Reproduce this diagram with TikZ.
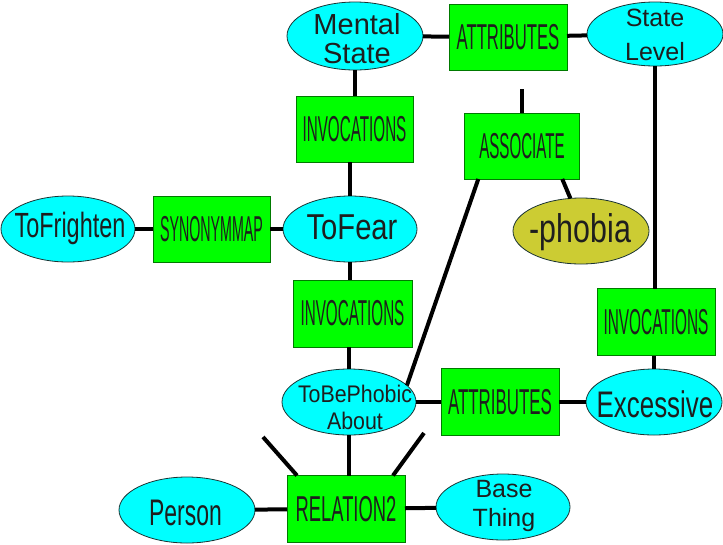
\documentclass[tikz,border=0pt]{standalone}
\usepackage{fontspec}
\setmainfont{Liberation Sans}
\usepackage{graphicx}
\usetikzlibrary{shapes.geometric,calc}
\definecolor{cy}{HTML}{00FFFF}
\definecolor{gr}{HTML}{00FF00}
\definecolor{ol}{HTML}{CCCC33}
\definecolor{txt}{HTML}{1E1E1E}
\definecolor{ellb}{HTML}{1A3333}
\definecolor{boxb}{HTML}{007A00}
\newcommand\sx[2]{\scalebox{#1}[1]{#2}}
\begin{document}
\begin{tikzpicture}[x=1pt,y=-1pt,
 ell/.style={ellipse, draw=ellb, line width=0.8pt, fill=cy, inner sep=0pt, outer sep=0pt},
 box/.style={rectangle, draw=boxb, line width=0.8pt, fill=gr, inner sep=0pt, outer sep=0pt, text=txt, font=\fontsize{36}{36}\selectfont},
 lbl/.style={text=txt, inner sep=0pt, align=center},
 con/.style={line width=4pt, black}]
\fill[white] (0,0) rectangle (723,544);
\useasboundingbox (0,0) rectangle (723,544);

\node[ell, minimum width=136pt, minimum height=68pt] (ms) at (355,36) {};
\node[lbl, font=\fontsize{29}{29}\selectfont] (mst) at (357,39) {Mental\\State};
\node[box, minimum width=118pt, minimum height=66pt] (attrT) at (508,37) {\sx{0.464}{ATTRIBUTES}};
\node[ell, minimum width=136pt, minimum height=64pt] (sl) at (655,34) {};
\node[lbl, font=\fontsize{25}{34}\selectfont] (slt) at (655,35) {State\\Level};
\node[box, minimum width=117pt, minimum height=66pt] (invT) at (354.5,129) {\sx{0.423}{INVOCATIONS}};
\node[box, minimum width=115pt, minimum height=66pt] (assoc) at (522,146) {\sx{0.42}{ASSOCIATE}};
\node[ell, minimum width=134pt, minimum height=66pt] (fear) at (350,229) {};
\node[lbl, font=\fontsize{36}{36}\selectfont, anchor=base] (feart) at (352,239) {\sx{0.81}{ToFear}};
\node[ell, fill=ol, minimum width=136pt, minimum height=66pt] (phob) at (581,231) {};
\node[lbl, font=\fontsize{40}{40}\selectfont, anchor=base] (phobt) at (580.5,242) {\sx{0.76}{-phobia}};
\node[ell, minimum width=134pt, minimum height=66pt] (frig) at (68,229) {};
\node[lbl, font=\fontsize{35}{35}\selectfont, anchor=base] (frigt) at (70,237) {\sx{0.67}{ToFrighten}};
\node[box, minimum width=117pt, minimum height=66pt] (syn) at (211.5,229) {\sx{0.396}{SYNONYMMAP}};
\node[box, minimum width=119pt, minimum height=67pt] (invM) at (352.5,313.5) {\sx{0.423}{INVOCATIONS}};
\node[box, minimum width=118pt, minimum height=67pt] (invR) at (656,322) {\sx{0.427}{INVOCATIONS}};
\node[ell, minimum width=134pt, minimum height=66pt] (tbp) at (349,402) {};
\node[lbl, font=\fontsize{24}{27}\selectfont] (tbpt) at (355,407) {\sx{0.89}{ToBePhobic}\\\sx{0.89}{About}};
\node[box, minimum width=118pt, minimum height=67pt] (attrB) at (500,402) {\sx{0.469}{ATTRIBUTES}};
\node[ell, minimum width=136pt, minimum height=66pt] (exc) at (654,402) {};
\node[lbl, font=\fontsize{37}{37}\selectfont, anchor=base] (exct) at (655,417) {\sx{0.7}{Excessive}};
\node[box, minimum width=118pt, minimum height=67pt] (rel) at (346,509) {\sx{0.51}{RELATION2}};
\node[ell, minimum width=134pt, minimum height=66pt] (base) at (503,507) {};
\node[lbl, font=\fontsize{25}{29}\selectfont] (baset) at (504,506) {Base\\Thing};
\node[ell, minimum width=136pt, minimum height=66pt] (pers) at (187,510) {};
\node[lbl, font=\fontsize{37}{37}\selectfont, anchor=base] (perst) at (185.5,525) {\sx{0.62}{Person}};

\draw[con] (ms) -- (attrT);
\draw[con] (attrT) -- (sl);
\draw[con] (ms.south) -- (ms.south |- invT.north);
\draw[con] (fear.north) -- (fear.north |- invT.south);
\draw[con] (frig) -- (syn);
\draw[con] (syn) -- (fear);
\draw[con] (fear.south) -- (fear.south |- invM.north);
\draw[con] (tbp.north) -- (tbp.north |- invM.south);
\draw[con] (tbp) -- (attrB);
\draw[con] (attrB) -- (exc);
\draw[con] (sl.south) -- (sl.south |- invR.north);
\draw[con] (exc.north) -- (exc.north |- invR.south);
\draw[con] (tbp.south) -- (tbp.south |- rel.north);
\draw[con] (pers) -- (rel);
\draw[con] (rel) -- (base);
\coordinate (cA) at (522,89);
\draw[con] (cA) -- (cA |- assoc.north);
\draw[con] ($(assoc.south west)!0.12!(assoc.south east)$) -- (tbp.16);
\draw[con] ($(assoc.south west)!0.85!(assoc.south east)$) -- (phob.108);
\coordinate (cL) at (263,437);
\coordinate (cR) at (424,433);
\draw[con] (cL) -- ($(rel.north west)+(10,0)$);
\draw[con] (cR) -- ($(rel.north east)+(-12,0)$);
\end{tikzpicture}
\end{document}
